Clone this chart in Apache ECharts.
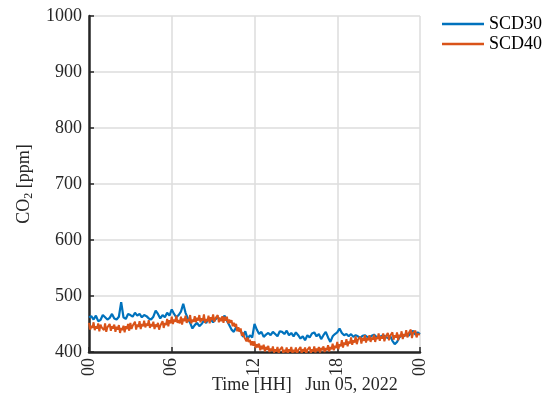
<!DOCTYPE html>
<html>
<head>
<meta charset="utf-8">
<script src="https://cdn.jsdelivr.net/npm/echarts@6/dist/echarts.min.js"></script>
<style>
  html, body { margin: 0; padding: 0; background: #fff; }
  #chart { width: 550px; height: 404px; }
</style>
</head>
<body>
<div id="chart"></div>
<script>
// CO2 readings over one day (hours 0..24)
// SCD30: one reading every 10 minutes
const scd30StepMin = 10;
const scd30 = [
  462, 464, 458, 465, 455, 457,
  466, 462, 458, 461, 468, 460,
  458, 463, 489, 462, 459, 468,
  466, 463, 470, 465, 468, 462,
  466, 464, 460, 458, 463, 474,
  468, 460, 466, 462, 470, 465,
  476, 468, 462, 466, 472, 486,
  470, 460, 452, 442, 448, 452,
  446, 450, 456, 452, 460, 458,
  453, 458, 462, 458, 460, 465,
  456, 448, 440, 436, 444, 439,
  438, 427, 437, 423, 430, 426,
  450, 440, 432, 436, 427, 431,
  434, 430, 436, 432, 428, 437,
  436, 432, 438, 430, 434, 428,
  435, 430, 424, 428, 421, 430,
  426, 433, 435, 428, 432, 423,
  430, 436, 426, 418, 428, 432,
  435, 442, 434, 430, 432, 428,
  432, 427, 430, 428, 425, 429,
  430, 427, 426, 429, 431, 427,
  426, 428, 430, 427, 425, 429,
  420, 414, 418, 426, 430, 428,
  432, 429, 434, 438, 431, 435,
  432
];

// SCD40: one reading every 5 minutes
const scd40StepMin = 5;
const scd40 = [
  452, 440, 447, 443, 453, 439, 446, 442, 451, 437, 449, 444,
  447, 439, 451, 436, 444, 441, 450, 438, 446, 442, 449, 436,
  445, 440, 448, 434, 443, 439, 447, 435, 446, 441, 450, 438,
  452, 441, 447, 444, 454, 440, 449, 445, 455, 441, 450, 446,
  456, 444, 451, 447, 457, 443, 450, 446, 454, 441, 449, 445,
  452, 440, 447, 444, 455, 443, 452, 448, 459, 446, 457, 451,
  463, 450, 458, 454, 465, 452, 457, 451, 463, 449, 460, 455,
  465, 452, 459, 455, 466, 451, 458, 454, 464, 453, 461, 456,
  466, 453, 460, 456, 467, 452, 459, 455, 465, 451, 462, 457,
  467, 454, 460, 457, 466, 453, 461, 455, 464, 452, 463, 456,
  463, 451, 458, 452, 457, 446, 452, 445, 450, 437, 444, 436,
  442, 429, 435, 427, 430, 419, 426, 418, 422, 412, 419, 411,
  419, 407, 414, 408, 415, 403, 411, 405, 413, 401, 409, 404,
  411, 400, 406, 402, 410, 399, 405, 401, 409, 398, 404, 402,
  409, 398, 404, 400, 408, 397, 405, 401, 409, 398, 404, 400,
  408, 397, 403, 400, 409, 398, 405, 401, 408, 397, 404, 401,
  409, 398, 405, 401, 410, 399, 406, 402, 409, 399, 407, 403,
  410, 400, 407, 403, 412, 401, 409, 405, 415, 403, 411, 407,
  418, 405, 414, 410, 421, 408, 417, 413, 423, 410, 419, 415,
  426, 413, 421, 417, 428, 414, 422, 419, 427, 415, 425, 420,
  430, 417, 425, 421, 430, 418, 426, 422, 431, 418, 427, 423,
  433, 420, 428, 424, 433, 419, 427, 425, 434, 421, 429, 426,
  435, 422, 430, 426, 435, 421, 431, 427, 437, 423, 432, 428,
  439, 426, 433, 430, 440, 425, 434, 431, 438, 426, 432, 429,
  431
];

const seriesNames = ['SCD30', 'SCD40'];
const seriesColors = ['#0072BD', '#D95319'];
const hourTicks = ['00', '06', '12', '18', '00'];
const xLabelText = 'Time [HH]   Jun 05, 2022';

// pair each reading with its time of day in hours
function toPoints(values, stepMin) {
  return values.map((v, i) => [i * stepMin / 60, v]);
}

const serif = '"Liberation Serif", "Times New Roman", serif';
const ink = '#262626';

const chart = echarts.init(document.getElementById('chart'), null, { renderer: 'canvas' });

chart.setOption({
  backgroundColor: '#ffffff',
  animation: false,
  grid: { left: 89, right: 130, top: 16, bottom: 52, containLabel: false },
  legend: {
    orient: 'vertical',
    left: 442,
    top: 15,
    padding: 0,
    icon: 'rect',
    itemWidth: 42,
    itemHeight: 2.5,
    itemGap: 2,
    textStyle: { fontFamily: serif, fontSize: 18, color: '#000' },
    data: seriesNames
  },
  xAxis: {
    type: 'value',
    min: 0,
    max: 24,
    interval: 6,
    axisLine: { show: true, onZero: false, lineStyle: { color: ink, width: 2.5 } },
    axisTick: { show: true, inside: true, length: 5, lineStyle: { color: ink, width: 1.5 } },
    axisLabel: {
      rotate: 90,
      margin: 6,
      fontFamily: serif,
      fontSize: 18,
      color: ink,
      formatter: (v) => hourTicks[Math.round(v / 6)]
    },
    splitLine: { show: true, lineStyle: { color: '#dcdcdc', width: 1.5 } }
  },
  yAxis: {
    type: 'value',
    min: 400,
    max: 1000,
    interval: 100,
    name: '{n|CO}{s|2}{n| [ppm]}',
    nameLocation: 'middle',
    nameGap: 54,
    nameRotate: 90,
    nameTextStyle: {
      rich: {
        n: { fontFamily: serif, fontSize: 18, color: ink, lineHeight: 22 },
        s: { fontFamily: serif, fontSize: 12, color: ink, verticalAlign: 'bottom', lineHeight: 12 }
      }
    },
    axisLine: { show: true, lineStyle: { color: ink, width: 2.5 } },
    axisTick: { show: true, inside: true, length: 5, lineStyle: { color: ink, width: 1.5 } },
    axisLabel: { margin: 7, fontFamily: serif, fontSize: 18, color: ink, formatter: (v) => String(v) },
    splitLine: { show: true, lineStyle: { color: '#dcdcdc', width: 1.5 } }
  },
  graphic: [{
    type: 'text',
    left: 212,
    top: 376,
    style: { text: xLabelText, font: '18px ' + serif, fill: ink }
  }],
  series: [
    {
      name: seriesNames[0],
      type: 'line',
      data: toPoints(scd30, scd30StepMin),
      symbol: 'none',
      lineStyle: { color: seriesColors[0], width: 2.2 },
      itemStyle: { color: seriesColors[0] }
    },
    {
      name: seriesNames[1],
      type: 'line',
      data: toPoints(scd40, scd40StepMin),
      symbol: 'none',
      lineStyle: { color: seriesColors[1], width: 2 },
      itemStyle: { color: seriesColors[1] }
    }
  ]
});
</script>
</body>
</html>
